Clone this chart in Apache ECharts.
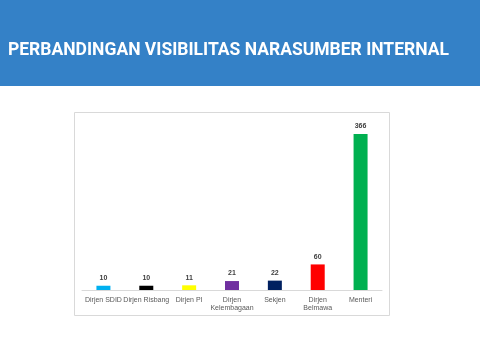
<!DOCTYPE html>
<html><head><meta charset="utf-8">
<script src="https://cdn.jsdelivr.net/npm/echarts@6/dist/echarts.min.js"></script>
<style>html,body{margin:0;padding:0;background:#fff}#c{width:480px;height:360px}</style>
</head><body><div id="c"></div>
<script>
const categories = ['Dirjen SDID','Dirjen Risbang','Dirjen PI','Dirjen\nKelembagaan','Sekjen','Dirjen\nBelmawa','Menteri'];
const values = [10,10,11,21,22,60,366];
const colors = ['#00B0F0','#000000','#FFFF00','#7030A0','#002060','#FF0000','#00B050'];
const title = 'PERBANDINGAN VISIBILITAS NARASUMBER INTERNAL';

const chart = echarts.init(document.getElementById('c'));
chart.setOption({
  animation:false,
  backgroundColor:'#ffffff',
  graphic:[
    {type:'rect',shape:{x:0,y:0,width:480,height:86},style:{fill:'#3481C7'},z:-10},
    {type:'text',left:8,top:42,style:{text:title,fill:'#ffffff',font:'bold 17.5px "Roboto", sans-serif'}},
    {type:'rect',shape:{x:74.5,y:112.5,width:315,height:203},style:{fill:'#ffffff',stroke:'#D9D9D9',lineWidth:1},z:-5}
  ],
  grid:{left:82,right:98,top:134,bottom:70},
  xAxis:{type:'category',data:categories,
    axisLine:{lineStyle:{color:'#D9D9D9'}},axisTick:{show:false},
    axisLabel:{color:'#595959',fontSize:7,fontFamily:'"Liberation Sans", sans-serif',interval:0,margin:6,lineHeight:8}},
  yAxis:{type:'value',min:0,max:366,show:false,splitLine:{show:false}},
  series:[{type:'bar',barWidth:14,
    data:values.map((v,i)=>({value:v,itemStyle:{color:colors[i]}})),
    label:{show:true,position:'top',color:'#404040',fontSize:7,fontWeight:'bold',distance:4,fontFamily:'"Liberation Sans", sans-serif'}}]
});
</script></body></html>
